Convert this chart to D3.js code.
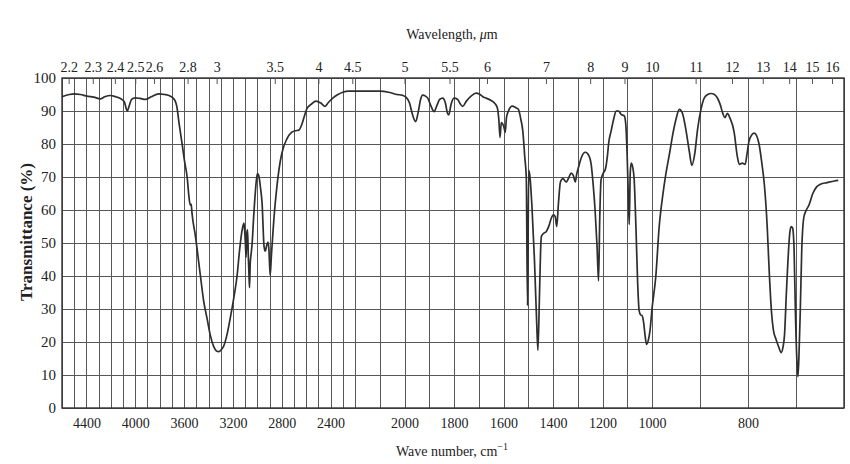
<!DOCTYPE html>
<html>
<head>
<meta charset="utf-8">
<script src="https://cdn.jsdelivr.net/npm/d3@7"></script>
<style>
  html, body { margin: 0; padding: 0; background: #fff; }
  svg { display: block; }
  text { font-family: "Liberation Serif", "DejaVu Serif", serif; fill: #222; }
</style>
</head>
<body>
<svg id="chart" width="850" height="464"></svg>
<script>
// ---- data ----
const wavenumbers = [
  4600,4540,4500,4450,4395,4340,4286,4250,4204,4160,4122,4090,4065,4050,4030,4000,3960,3917,3870,3808,
  3760,3712,3680,3660,3640,3616,3595,3575,3560,3550,3542,3535,3507,3466,3440,3411,3385,3357,3335,3316,
  3295,3275,3250,3220,3190,3166,3145,3125,3110,3104,3098,3092,3086,3080,3074,3068,3064,3058,3050,3043,
  3030,3015,3000,2989,2975,2961,2945,2935,2925,2912,2905,2895,2885,2865,2840,2811,2790,2760,2720,2690,
  2660,2640,2610,2592,2560,2520,2480,2445,2420,2380,2340,2300,2250,2200,2150,2100,2060,2030,2010,1994,
  1980,1968,1955,1945,1935,1927,1915,1906,1893,1880,1870,1858,1846,1835,1827,1821,1812,1800,1785,1775,
  1765,1750,1730,1710,1695,1680,1670,1650,1635,1625,1619,1614,1609,1603,1598,1593,1588,1580,1565,1550,
  1540,1530,1522,1514,1508,1503,1498,1493,1485,1475,1466,1461,1455,1450,1447,1437,1427,1415,1407,1398,
  1391,1385,1378,1370,1360,1347,1335,1327,1318,1310,1304,1296,1285,1269,1255,1246,1238,1230,1222,1216,
  1211,1206,1198,1188,1180,1175,1165,1155,1145,1135,1125,1112,1106,1101,1096,1092,1088,1084,1078,1072,
  1065,1058,1052,1046,1040,1034,1028,1022,1015,1008,1000,992,985,978,971,963,957,950,943,937,
  929,922,917,911,905,898,891,884,877,870,864,858,853,848,843,838,829,822,818,812,
  806,802,798,792,787,782,777,771,766,760,756,751,747,742,736,731,727,724,720,717,
  713,710,707,704,701,698,696,694,691,688,684,680,673,665,657,649,635,620,612
];
const transmittance = [
  94.3,95.0,95.2,95.0,94.5,94.2,93.7,94.3,94.7,94.3,93.8,92.8,90.0,91.5,93.5,94.0,93.8,93.5,94.3,95.2,
  95.0,94.5,93.5,91.5,86,80,74.5,70,64,61.5,61.8,59,52,40,32.5,27,22,18.6,17.3,17.1,
  17.7,18.8,22,27.6,34,40,48,53.8,56,54,50,45.7,53,54,46,40,36.5,44,47,49.7,
  58,66,71,70.5,67,62,49,47.5,49,50.3,48,40.2,46,57,67,75,78.5,81.4,83.5,84,
  84.2,85.5,89,90.9,92,93,92.4,91.4,92.5,94,95,95.7,96,96,96,96,95.6,95,94.8,94.2,
  92.5,89,86.8,89.5,93.5,94.8,94.5,93.9,91.5,89.8,91.5,93.5,93.9,92.5,89.5,88.8,92,93.9,93.5,92.2,
  91.4,93,94.6,95.4,95,94.2,93.9,93.2,92.3,91,87.5,82,86.5,86,85,83.5,88,90,91.5,91,
  90.5,87.5,84,76,70,31,72,70,61,45,26,17.5,33,48,52,53,53.5,55.5,57.5,58.5,
  58,55,62,68.5,69.5,68.5,70,71.2,70.5,68.5,71,73.2,76,77.5,76.5,74,68,60,49,38.5,
  58,69,71,72.5,76.5,80.3,84,87.5,90,90,89,88.5,86,78,65,55.6,71,74.2,73,69.2,
  55,38,29.5,28.2,28,26,22,19.3,20.5,23.5,30,40,55,64,71,77.5,82.7,87.5,90.5,89.5,
  84,77.5,73.5,77,84.5,90.5,94,95,95.3,95,94,92,89.5,88,89.3,88,83.7,76,73.8,74.2,
  73.8,77,80.8,82.8,83.3,82.5,80,74,67.8,55,42,29,23.5,21,18.5,16.8,18.5,22,35,44,
  53,55,54.5,48,27.6,14,9.5,15,30,48,57.5,59.5,61.5,65,67,67.8,68.3,68.8,69
];
const bottomTickLabels = [4400,4000,3600,3200,2800,2400,2000,1800,1600,1400,1200,1000,800];
const wavelengthLabels = [2.2,2.3,2.4,2.5,2.6,2.8,3,3.5,4,4.5,5,5.5,6,7,8,9,10,11,12,13,14,15,16];
const yTickLabels = [0,10,20,30,40,50,60,70,80,90,100];
const gridWavenumbers = d3.range(600, 4601, 100);

// ---- layout ----
const plotLeft = 62, plotRight = 844, plotTop = 78, plotBottom = 408;
const svg = d3.select("#chart");

const x = d3.scaleLinear()
  .domain([4600, 2200, 1000, 600])
  .range([plotLeft, 355, 652, plotRight]);
const y = d3.scaleLinear().domain([0, 100]).range([plotBottom, plotTop]);

// grid
const grid = svg.append("g").attr("stroke", "#585858").attr("stroke-width", 1);
grid.selectAll("line.v").data(gridWavenumbers).join("line").attr("class", "v")
  .attr("x1", d => Math.round(x(d)) + 0.5).attr("x2", d => Math.round(x(d)) + 0.5)
  .attr("y1", plotTop).attr("y2", plotBottom);
grid.selectAll("line.h").data(yTickLabels).join("line").attr("class", "h")
  .attr("x1", plotLeft).attr("x2", plotRight)
  .attr("y1", d => Math.round(y(d)) + 0.5).attr("y2", d => Math.round(y(d)) + 0.5);

// border
svg.append("rect").attr("x", plotLeft).attr("y", plotTop)
  .attr("width", plotRight - plotLeft).attr("height", plotBottom - plotTop)
  .attr("fill", "none").attr("stroke", "#333").attr("stroke-width", 1.4);

// spectrum
const line = d3.line()
  .x((d, i) => x(wavenumbers[i]))
  .y((d, i) => y(transmittance[i]))
  .curve(d3.curveMonotoneX);
svg.append("path")
  .attr("d", line(wavenumbers))
  .attr("fill", "none").attr("stroke", "#2e2e2e").attr("stroke-width", 1.7)
  .attr("stroke-linejoin", "round");

// axes
const leftAxis = d3.axisLeft(y).tickValues(yTickLabels).tickSize(0).tickPadding(6);
const gL = svg.append("g").attr("transform", `translate(${plotLeft},0)`).call(leftAxis);
gL.select(".domain").remove();
gL.selectAll("text").style("font-size", "15px").style("font-family", "Liberation Serif");

const bottomAxis = d3.axisBottom(x).tickValues(bottomTickLabels).tickSize(0).tickPadding(10).tickFormat(d3.format("d"));
const gB = svg.append("g").attr("transform", `translate(0,${plotBottom})`).call(bottomAxis);
gB.select(".domain").remove();
gB.selectAll("text").style("font-size", "14px").style("font-family", "Liberation Serif");

const topAxis = d3.axisTop(x).tickValues(wavelengthLabels.map(l => 1e4 / l))
  .tickSizeInner(-6).tickSizeOuter(0).tickPadding(6)
  .tickFormat((d, i) => String(wavelengthLabels[i]));
const gT = svg.append("g").attr("transform", `translate(0,${plotTop})`).call(topAxis);
gT.select(".domain").remove();
gT.selectAll("line").attr("stroke", "#555");
gT.selectAll("text").style("font-size", "14px").style("font-family", "Liberation Serif");

// titles
svg.append("text").attr("x", 452).attr("y", 39).attr("text-anchor", "middle")
  .style("font-size", "14px")
  .html('Wavelength, <tspan font-style="italic">μ</tspan>m');
svg.append("text").attr("x", 452).attr("y", 456).attr("text-anchor", "middle")
  .style("font-size", "14px")
  .html('Wave number, cm<tspan dy="-6" font-size="10px">−1</tspan>');
svg.append("text")
  .attr("transform", "translate(32,232) rotate(-90)")
  .attr("text-anchor", "middle")
  .style("font-size", "17px").style("font-weight", "bold")
  .text("Transmittance (%)");
</script>
</body>
</html>
